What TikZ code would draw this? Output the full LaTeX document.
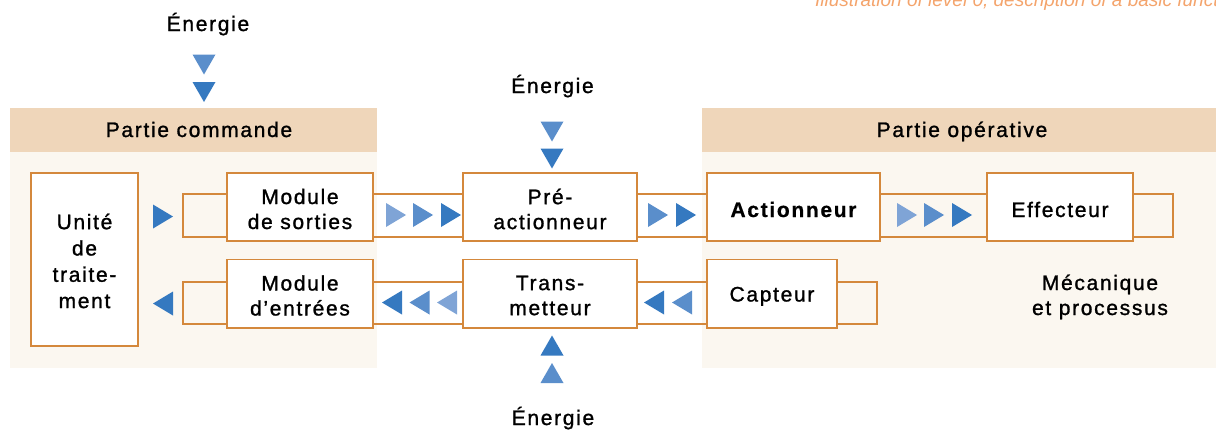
\documentclass[tikz,border=0pt]{standalone}
\usepackage{fontspec}
\setmainfont{Liberation Sans}[LetterSpace=8, FakeBold=1.2, BoldFeatures={FakeBold=0.6}]
\newfontfamily\notefont{Liberation Sans}
\usetikzlibrary{calc}
\definecolor{hdr}{HTML}{EFD6BA}
\definecolor{bodyc}{HTML}{FBF7F0}
\definecolor{bord}{HTML}{D4883C}
\definecolor{tdark}{HTML}{3579C0}
\definecolor{tmid}{HTML}{5A8ECB}
\definecolor{tlight}{HTML}{7FA4D6}
\definecolor{notec}{HTML}{F4A46C}
\begin{document}
\begin{tikzpicture}[x=1pt,y=-1pt,
  box/.style={draw=bord, line width=1.5pt, fill=white, inner sep=0pt, outer sep=0pt},
  chan/.style={draw=bord, line width=1.5pt},
  lbl/.style={font=\fontsize{21}{25}\selectfont, align=center, inner sep=0pt, text=black},
  tdk/.style={color=tdark}, tmd/.style={color=tmid}, tlt/.style={color=tlight},
  tright/.pic={\fill (-10,-12) -- (10,0) -- (-10,12) -- cycle;},
  tleft/.pic={\fill (10,-12) -- (-10,0) -- (10,12) -- cycle;},
  tdown/.pic={\fill (-11.5,-10) -- (11.5,-10) -- (0,10) -- cycle;},
  tup/.pic={\fill (-11.5,10) -- (11.5,10) -- (0,-10) -- cycle;}]
\useasboundingbox (0,0) rectangle (1216,431);
% bands
\fill[bodyc] (10,152) rectangle (377,368);
\fill[hdr] (10,108) rectangle (377,152);
\fill[bodyc] (702,152) rectangle (1216,368);
\fill[hdr] (702,108) rectangle (1216,152);
\node[lbl, anchor=base] (pc) at (199,137) {Partie commande};
\node[lbl, anchor=base] (po) at (962,137) {Partie opérative};
% note
\node[anchor=base west, inner sep=0pt, text=notec, font=\notefont\itshape\fontsize{19}{20}\selectfont] (note) at (815,6.5) {Illustration of level 0, description of a basic function};
% boxes (shapes)
\node[box, minimum width=107pt, minimum height=173pt] (ut) at (84.5,259.5) {};
\node[box, minimum width=146pt, minimum height=68pt] (ms) at (300,207) {};
\node[box, minimum width=146pt, minimum height=68.5pt] (me) at (300,293.5) {};
\node[box, minimum width=174pt, minimum height=68pt] (pa) at (550,207) {};
\node[box, minimum width=174pt, minimum height=68.5pt] (tm) at (550,293.5) {};
\node[box, minimum width=173pt, minimum height=68pt] (ac) at (793.5,207) {};
\node[box, minimum width=146pt, minimum height=68pt] (ef) at (1060,207) {};
\node[box, minimum width=130pt, minimum height=68.5pt] (ca) at (772,293.5) {};
% channels, top row
\draw[chan] ([yshift=13pt]ms.west) -| ([xshift=-44pt,yshift=-30pt]ms.west) -- ([yshift=-30pt]ms.west);
\draw[chan] ([yshift=13pt]ms.east) -- ([yshift=13pt]pa.west);
\draw[chan] ([yshift=-30pt]ms.east) -- ([yshift=-30pt]pa.west);
\draw[chan] ([yshift=13pt]pa.east) -- ([yshift=13pt]ac.west);
\draw[chan] ([yshift=-30pt]pa.east) -- ([yshift=-30pt]ac.west);
\draw[chan] ([yshift=13pt]ac.east) -- ([yshift=13pt]ef.west);
\draw[chan] ([yshift=-30pt]ac.east) -- ([yshift=-30pt]ef.west);
\draw[chan] ([yshift=13pt]ef.east) -| ([xshift=40pt,yshift=-30pt]ef.east) -- ([yshift=-30pt]ef.east);
% channels, bottom row
\draw[chan] ([yshift=11.5pt]me.west) -| ([xshift=-44pt,yshift=-30.5pt]me.west) -- ([yshift=-30.5pt]me.west);
\draw[chan] ([yshift=11.5pt]me.east) -- ([yshift=11.5pt]tm.west);
\draw[chan] ([yshift=-30.5pt]me.east) -- ([yshift=-30.5pt]tm.west);
\draw[chan] ([yshift=11.5pt]tm.east) -- ([yshift=11.5pt]ca.west);
\draw[chan] ([yshift=-30.5pt]tm.east) -- ([yshift=-30.5pt]ca.west);
\draw[chan] ([yshift=11.5pt]ca.east) -| ([xshift=40pt,yshift=-30.5pt]ca.east) -- ([yshift=-30.5pt]ca.east);
% texts in boxes
\node[lbl, font=\fontsize{21}{26.3}\selectfont] (utT) at ([yshift=-1.5pt]ut.center) {Unité\\de\\traite-\\ment};
\node[lbl] (msT) at ([yshift=-2pt]ms.center) {Module\\de sorties};
\node[lbl] (meT) at ([yshift=-2pt]me.center) {Module\\d'entrées};
\node[lbl] (paT) at ([yshift=-2pt]pa.center) {Pré-\\actionneur};
\node[lbl] (tmT) at ([yshift=-2pt]tm.center) {Trans-\\metteur};
\node[lbl, anchor=base] (acT) at ([yshift=-10pt]ac.center) {\bfseries Actionneur};
\node[lbl, anchor=base] (efT) at ([yshift=-10pt]ef.center) {Effecteur};
\node[lbl, anchor=base] (caT) at ([yshift=-8pt]ca.center) {Capteur};
\node[lbl, anchor=base] (mp1) at (1100,290) {Mécanique};
\node[lbl, anchor=base] (mp2) at (1100,315) {et processus};
% energy labels
\node[lbl, anchor=base] (e1) at (208,31) {Énergie};
\node[lbl, anchor=base] (e2) at (552.5,93) {Énergie};
\node[lbl, anchor=base] (e3) at (553,425) {Énergie};
% energy triangles
\pic[tmd] at (204,64.5) {tdown};
\pic[tdk] at (204,92) {tdown};
\pic[tmd] at (552,131.5) {tdown};
\pic[tdk] at (552,158.5) {tdown};
\pic[tdk] at (552,345.5) {tup};
\pic[tmd] at (552,373) {tup};
% flow triangles, top row
\pic[tdk] at (163,216.5) {tright};
\pic[tlt] at (396,215) {tright};
\pic[tmd] at (423,215) {tright};
\pic[tdk] at (451,215) {tright};
\pic[tmd] at (658,215) {tright};
\pic[tdk] at (686,215) {tright};
\pic[tlt] at (907,215) {tright};
\pic[tmd] at (934,215) {tright};
\pic[tdk] at (962,215) {tright};
% flow triangles, bottom row
\pic[tdk] at (163,303.5) {tleft};
\pic[tdk] at (392,302.5) {tleft};
\pic[tmd] at (419.5,302.5) {tleft};
\pic[tlt] at (447,302.5) {tleft};
\pic[tdk] at (654,302.5) {tleft};
\pic[tmd] at (682,302.5) {tleft};
\end{tikzpicture}
\end{document}
